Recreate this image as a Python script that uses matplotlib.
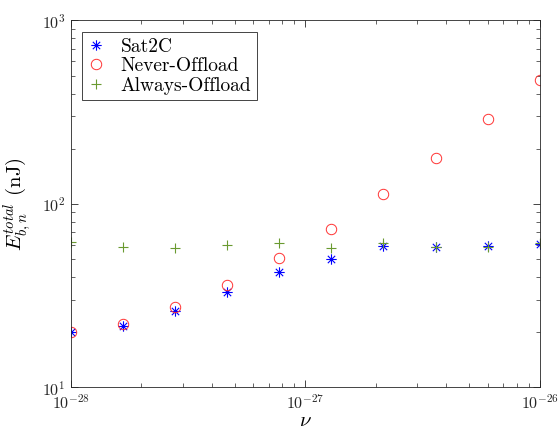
import numpy as np
import matplotlib
matplotlib.use('Agg')
from matplotlib import pyplot as plt
from matplotlib.path import Path

# values
nu = [1e-28, 1.668e-28, 2.783e-28, 4.642e-28, 7.743e-28,
      1.292e-27, 2.154e-27, 3.594e-27, 5.995e-27, 1e-26]
sat2c = [20.0, 21.7, 26.1, 33.3, 42.4, 50.3, 58.8, 58.5, 58.8, 60.8]
never_offload = [20.0, 22.2, 27.4, 36.1, 50.6, 73.4, 113.8, 178.8, 289.4, 474.0]
always_offload = [61.9, 58.1, 57.6, 59.6, 61.1, 57.8, 61.1, 58.3, 58.5, 61.2]

plt.rcParams['font.family'] = 'serif'
plt.rcParams['font.serif'] = ['cmr10']
plt.rcParams['mathtext.fontset'] = 'cm'
plt.rcParams['axes.formatter.use_mathtext'] = True
plt.rcParams['axes.unicode_minus'] = False

# matlab style asterisk: + and x together
d = 0.7071
asterisk = Path([(-1, 0), (1, 0), (0, -1), (0, 1), (-d, -d), (d, d), (-d, d), (d, -d)],
                [Path.MOVETO, Path.LINETO] * 4)

fig = plt.figure(figsize=(5.6, 4.38), dpi=100)
ax = fig.add_axes([0.126, 0.1153, 0.838, 0.8379])

ax.loglog(nu, sat2c, linestyle='none', marker=asterisk, color='blue',
          markersize=7.5, markeredgewidth=0.8, label='Sat2C')
ax.loglog(nu, never_offload, linestyle='none', marker='o', markerfacecolor='none',
          markeredgecolor='#ff3333', markersize=7.5, markeredgewidth=0.7, label='Never-Offload')
ax.loglog(nu, always_offload, linestyle='none', marker='+', color='#6a9a30',
          markersize=7.5, markeredgewidth=0.8, label='Always-Offload')

ax.set_xlim(1e-28, 1e-26)
ax.set_ylim(10, 1000)

ax.set_xlabel(r'$\nu$', fontsize=15, labelpad=0)
ax.set_ylabel(r'$E_{b,n}^{total}$ (nJ)', fontsize=15, labelpad=6)

for s in ax.spines.values():
    s.set_color('#262626')
    s.set_linewidth(0.6)
ax.tick_params(which='both', direction='in', top=True, right=True,
               colors='#262626', labelsize=11.5)
ax.tick_params(which='major', length=5, width=0.6)
ax.tick_params(which='minor', length=3, width=0.5)
ax.tick_params(axis='x', pad=4)

leg = ax.legend(loc='upper left', fontsize=14, fancybox=False, framealpha=1,
                edgecolor='#262626', borderpad=0.3, handletextpad=0.8,
                handlelength=0.9, labelspacing=0.08, borderaxespad=0,
                bbox_to_anchor=(0.024, 0.969))
leg.get_frame().set_linewidth(0.6)

fig.savefig('out.png', dpi=100)
